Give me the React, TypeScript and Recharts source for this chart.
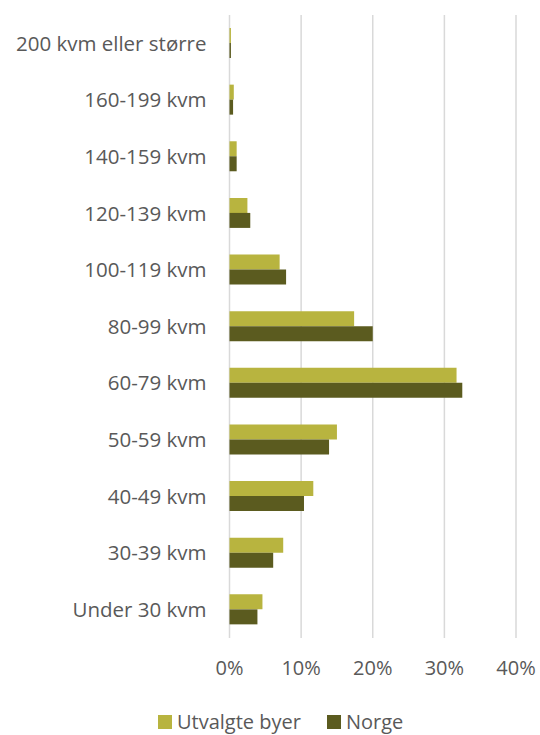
import React from "react";
import { BarChart, Bar, XAxis, YAxis, CartesianGrid, Legend } from "recharts";

const categories = [
  "200 kvm eller større",
  "160-199 kvm",
  "140-159 kvm",
  "120-139 kvm",
  "100-119 kvm",
  "80-99 kvm",
  "60-79 kvm",
  "50-59 kvm",
  "40-49 kvm",
  "30-39 kvm",
  "Under 30 kvm",
];
const utvalgteByer = [0.2, 0.6, 1.0, 2.5, 7.0, 17.4, 31.7, 15.0, 11.7, 7.5, 4.6];
const norge = [0.2, 0.5, 1.0, 2.9, 7.9, 20.0, 32.5, 13.9, 10.4, 6.1, 3.9];
const xTicks = [0, 10, 20, 30, 40];

const BYER_COLOR = "#b8b43f";
const NORGE_COLOR = "#5b5b1f";
const TEXT = "#595959";
const FONT = "'Open Sans', sans-serif";

const rows = categories.map((c, i) => ({ cat: c, byer: utvalgteByer[i], norge: norge[i] }));

function LegendBox() {
  const item = (color: string, label: string, mr: number) => (
    <span style={{ display: "inline-flex", alignItems: "center", marginRight: mr }}>
      <span style={{ width: 14, height: 14, background: color, display: "inline-block", marginRight: 5 }} />
      <span>{label}</span>
    </span>
  );
  return (
    <div style={{ paddingLeft: 158, fontFamily: FONT, fontSize: 20, color: TEXT, lineHeight: "24px" }}>
      {item(BYER_COLOR, "Utvalgte byer", 26)}
      {item(NORGE_COLOR, "Norge", 0)}
    </div>
  );
}

export default function App() {
  return (
    <div style={{ position: "absolute", left: 0, top: 0, width: 540, height: 735, background: "#fff" }}>
      <BarChart
        width={540}
        height={735}
        data={rows}
        layout="vertical"
        margin={{ top: 15, right: 24, bottom: 0, left: 0 }}
        barGap={0}
        barSize={15}
      >
        <CartesianGrid horizontal={false} stroke="#d9d9d9" strokeWidth={1.5} />
        <XAxis
          type="number"
          domain={[0, 40]}
          ticks={xTicks}
          tickFormatter={(v: number) => `${v}%`}
          axisLine={false}
          tickLine={false}
          tick={{ fill: TEXT, fontSize: 20, fontFamily: FONT }}
          tickMargin={17}
          height={73}
        />
        <YAxis
          type="category"
          dataKey="cat"
          width={229.5}
          axisLine={false}
          tickLine={false}
          tick={{ fill: TEXT, fontSize: 20.5, fontFamily: FONT }}
          tickMargin={17}
          interval={0}
        />
        <Legend
          verticalAlign="bottom"
          content={() => <LegendBox />}
          wrapperStyle={{ bottom: 1, left: 0, width: 540 }}
        />
        <Bar dataKey="byer" name="Utvalgte byer" fill={BYER_COLOR} isAnimationActive={false} />
        <Bar dataKey="norge" name="Norge" fill={NORGE_COLOR} isAnimationActive={false} />
      </BarChart>
    </div>
  );
}
